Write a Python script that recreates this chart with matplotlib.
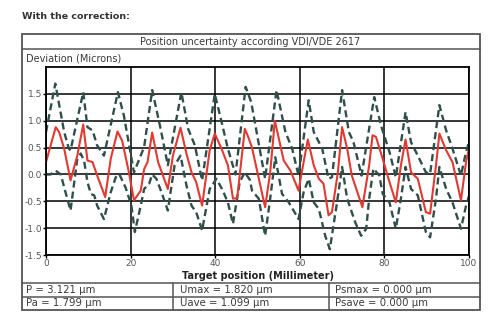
import matplotlib.pyplot as plt
from matplotlib.patches import Rectangle
from matplotlib.lines import Line2D

# mean deviation (red)
mean_x = [0, 2.3, 3.1, 4.3, 5.8, 7.4, 8.8, 9.8, 11.0, 12.1, 14.0, 15.3, 16.9, 18.0, 19.6,
          20.8, 22.4, 23.2, 24.0, 25.1, 26.5, 28.8, 30.0, 31.8, 33.2, 34.4, 35.5, 36.9,
          38.7, 39.9, 41.5, 43.0, 44.2, 45.2, 47.0, 47.8, 48.7, 51.8, 53.0, 54.1, 56.2,
          57.8, 59.7, 60.9, 61.9, 63.3, 64.5, 65.6, 66.8, 67.6, 69.0, 70.0, 71.2, 72.3,
          74.8, 76.4, 77.2, 78.0, 79.6, 81.2, 82.7, 83.9, 85.0, 86.3, 87.9, 89.8, 90.8,
          92.2, 93.0, 94.6, 96.1, 98.1, 99.3, 100]
mean_y = [0.23, 0.88, 0.79, 0.48, -0.11, 0.35, 0.93, 0.26, 0.23, -0.02, -0.42, 0.29, 0.80,
          0.63, 0.04, -0.48, -0.30, 0.10, 0.23, 0.78, 0.23, -0.27, 0.35, 0.87, 0.39, 0.04,
          -0.14, -0.58, 0.45, 0.76, 0.48, 0.17, -0.45, -0.44, 0.85, 0.70, 0.50, -0.61, 0.04,
          1.00, 0.26, 0.07, -0.30, 0.23, 0.65, 0.17, -0.08, -0.17, -0.76, -0.70, 0.04, 0.88,
          0.48, -0.02, -0.61, 0.17, 0.73, 0.70, 0.29, -0.14, -0.52, 0.17, 0.65, 0.04, -0.08,
          -0.70, -0.73, 0.17, 0.76, 0.45, 0.23, -0.48, 0.23, 0.48]

# upper band (dashed)
upper_x = [0, 2.2, 4.3, 5.4, 5.8, 8.8, 9.8, 11.0, 12.1, 13.7, 17.0, 18.4, 20.8, 23.2, 25.1,
           27.1, 28.8, 32.0, 33.6, 35.2, 36.9, 39.9, 41.5, 43.0, 44.8, 47.2, 48.5, 51.8,
           54.5, 56.6, 58.2, 59.7, 62.1, 63.3, 65.3, 66.8, 67.6, 70.0, 71.6, 72.7, 74.6,
           77.6, 79.2, 81.2, 82.7, 85.0, 86.3, 87.9, 89.8, 90.8, 93.0, 94.6, 96.1, 98.1,
           99.3, 100]
upper_y = [0.79, 1.69, 0.79, 0.48, 0.45, 1.53, 0.88, 0.82, 0.54, 0.35, 1.53, 1.10, 0.04, 0.51,
           1.57, 0.85, 0.17, 1.53, 0.85, 0.54, -0.11, 1.50, 0.98, 0.48, 0.00, 1.63, 1.35,
           -0.08, 1.57, 0.79, 0.48, -0.02, 1.38, 0.79, 0.48, -0.08, -0.05, 1.57, 0.79, 0.60,
           -0.02, 1.44, 0.91, 0.42, -0.05, 1.16, 0.60, 0.35, 0.04, 0.01, 1.29, 0.82, 0.48,
           -0.02, 0.42, 0.60]

# lower band (dashed)
lower_x = [0, 1.1, 2.3, 3.5, 4.3, 5.8, 7.4, 8.2, 9.0, 9.8, 10.6, 11.4, 12.1, 13.7, 15.3,
           16.5, 17.3, 18.8, 20.2, 21.0, 22.4, 23.2, 24.4, 25.1, 26.1, 27.3, 28.8, 30.4,
           31.8, 33.2, 34.4, 35.5, 36.9, 38.7, 40.3, 41.8, 43.0, 44.2, 45.8, 47.0, 48.2,
           48.7, 50.3, 51.8, 53.0, 54.2, 55.8, 57.4, 59.7, 60.9, 62.1, 63.3, 64.5, 66.0,
           67.1, 68.8, 70.0, 71.2, 73.1, 74.5, 75.7, 76.4, 77.4, 78.8, 79.6, 81.2, 82.7,
           83.9, 85.0, 86.3, 87.9, 89.8, 90.8, 92.2, 93.0, 94.6, 96.1, 98.1, 99.3, 100]
lower_y = [0.00, 0.00, 0.07, 0.00, -0.24, -0.67, 0.29, 0.39, 0.26, -0.14, -0.36, -0.39,
           -0.58, -0.83, -0.33, -0.05, 0.01, -0.24, -0.58, -1.07, -0.58, -0.27, -0.17, 0.00,
           -0.08, -0.33, -0.67, 0.17, 0.35, -0.20, -0.58, -0.70, -1.04, -0.27, -0.08, -0.30,
           -0.52, -0.92, -0.14, 0.04, -0.10, -0.30, -0.45, -1.14, -0.45, 0.32, -0.36, -0.52,
           -0.83, -0.33, -0.08, -0.52, -0.64, -1.14, -1.39, -0.52, 0.14, -0.45, -0.89, -1.14,
           -1.01, -0.45, 0.11, -0.02, -0.36, -0.52, -1.01, -0.45, 0.14, -0.27, -0.39, -1.07,
           -1.17, -0.45, 0.14, -0.27, -0.52, -1.01, -0.58, -0.40]

x_ticks = [0, 20, 40, 60, 80, 100]
y_ticks = [-1.5, -1.0, -0.5, 0.0, 0.5, 1.0, 1.5]

row1 = ["P = 3.121 \u00b5m", "Umax = 1.820 \u00b5m", "Psmax = 0.000 \u00b5m"]
row2 = ["Pa = 1.799 \u00b5m", "Uave = 1.099 \u00b5m", "Psave = 0.000 \u00b5m"]

red = "#e03a33"
green = "#2f4f4a"
frame = "#555555"
txt = "#3a3a3a"

fig = plt.figure(figsize=(5, 3.3), dpi=100)
fig.patch.set_facecolor("white")

ax = fig.add_axes([0.092, 0.227, 0.846, 0.570])
ax.plot(upper_x, upper_y, color=green, lw=1.7, ls=(0, (3.0, 1.7)))
ax.plot(lower_x, lower_y, color=green, lw=1.7, ls=(0, (3.0, 1.7)))
ax.plot(mean_x, mean_y, color=red, lw=1.5)

ax.set_xlim(0, 100)
ax.set_ylim(-1.5, 2.0)
ax.set_xticks(x_ticks)
ax.set_yticks(y_ticks)
ax.set_xticklabels([str(v) for v in x_ticks])
ax.set_yticklabels(["%.1f" % v for v in y_ticks])
ax.grid(True, color="black", lw=1.1)
ax.set_axisbelow(True)
for s in ax.spines.values():
    s.set_color("black")
    s.set_linewidth(1.3)
ax.tick_params(axis="both", length=2, width=1, color="black", labelsize=6.5,
               labelcolor="#555555", pad=1)

# outer frame and dividers
fig.add_artist(Rectangle((0.044, 0.0606), 0.916, 0.836, transform=fig.transFigure,
                         fill=False, ec=frame, lw=1.3))
fig.add_artist(Line2D([0.044, 0.96], [0.8515, 0.8515], transform=fig.transFigure,
                      color=frame, lw=1.1))
fig.add_artist(Line2D([0.044, 0.96], [0.1424, 0.1424], transform=fig.transFigure,
                      color=frame, lw=1.1))
fig.add_artist(Line2D([0.044, 0.96], [0.101, 0.101], transform=fig.transFigure,
                      color=frame, lw=1.1))
for xd in [0.346, 0.658]:
    fig.add_artist(Line2D([xd, xd], [0.0606, 0.1424], transform=fig.transFigure,
                          color=frame, lw=1.1))

fig.text(0.044, 0.951, "With the correction:", fontsize=6.8, fontweight="bold",
         color="#333333", va="center")
fig.text(0.5, 0.874, "Position uncertainty according VDI/VDE 2617", fontsize=7,
         color=txt, ha="center", va="center")
fig.text(0.052, 0.824, "Deviation (Microns)", fontsize=7, color=txt, va="center")
fig.text(0.515, 0.164, "Target position (Millimeter)", fontsize=7, fontweight="bold",
         color="#222222", ha="center", va="center")

col_x = [0.052, 0.36, 0.67]
for i in range(3):
    fig.text(col_x[i], 0.121, row1[i], fontsize=7.3, color=txt, va="center")
    fig.text(col_x[i], 0.081, row2[i], fontsize=7.3, color=txt, va="center")

fig.savefig("out.png", dpi=100, facecolor="white")
